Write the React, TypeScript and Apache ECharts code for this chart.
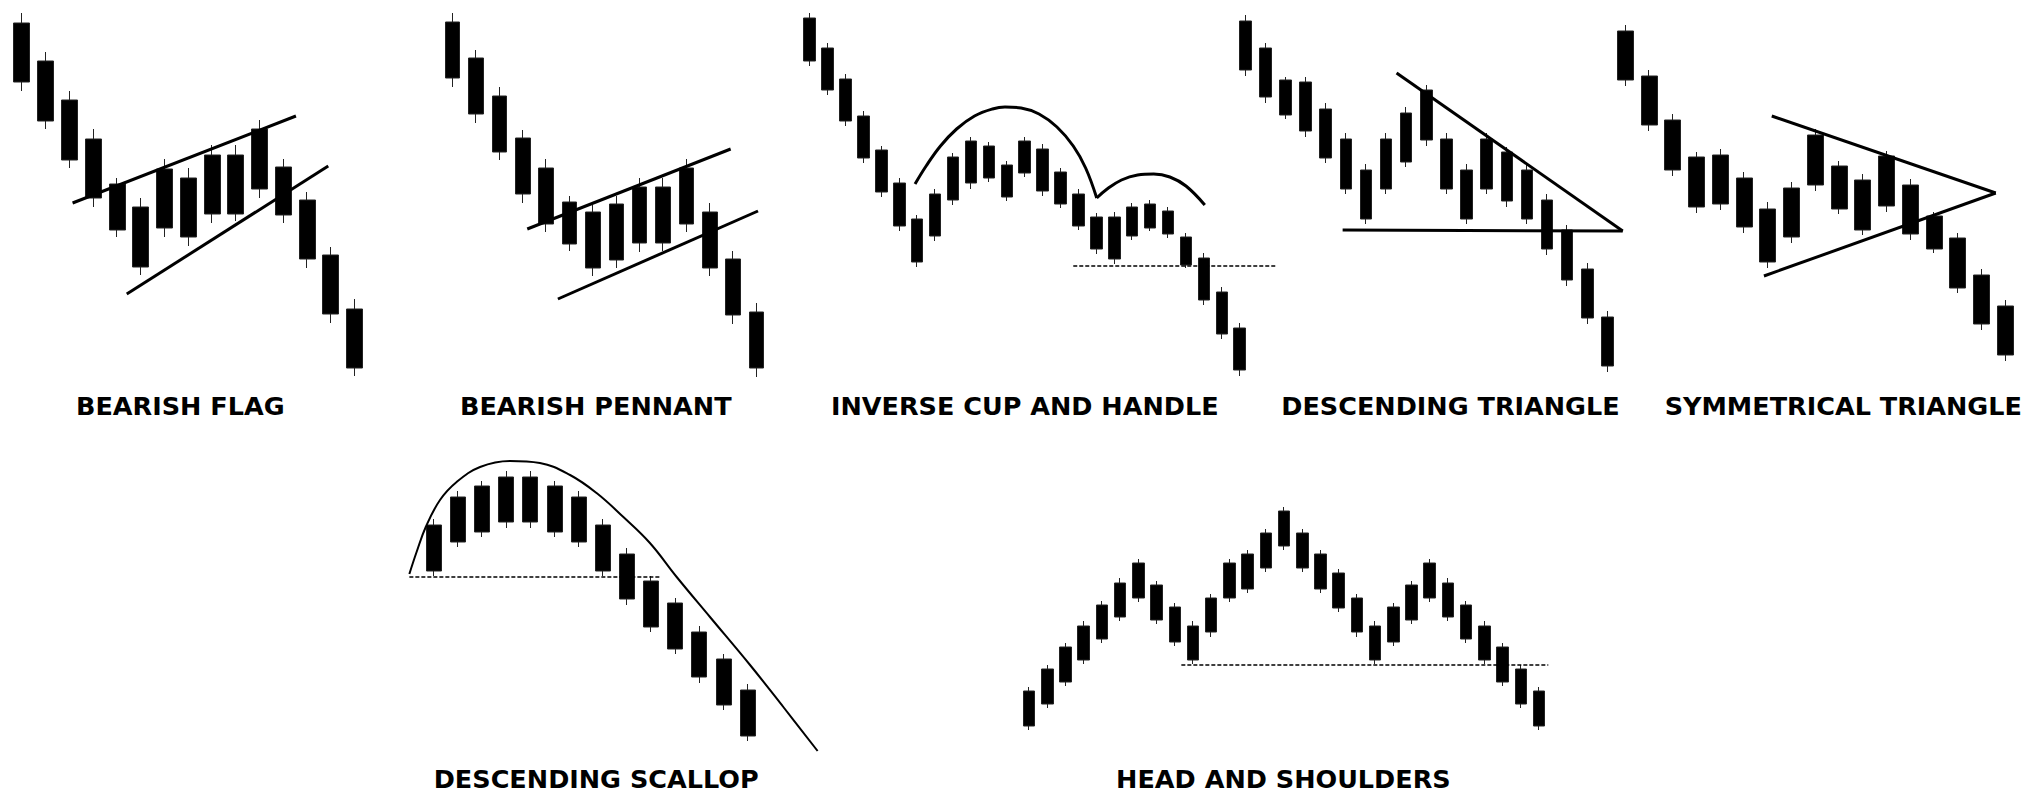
import React, { useEffect, useRef } from "react";
import * as echarts from "echarts";

// Candles: [open, close, lowest, highest] (price units)
const flagCandles = [
  [377, 318, 309, 387], [339, 279, 271, 348], [300, 240, 232, 309], [261, 202, 193, 271],
  [216, 170, 163, 222], [193, 133, 125, 202], [231, 172, 163, 241], [222, 163, 154, 232],
  [245, 186, 177, 255], [245, 186, 179, 255], [271, 211, 202, 280], [233, 185, 177, 241],
  [200, 141, 132, 208], [145, 86, 77, 153], [91, 32, 24, 101],
];
const flagUpper = [[2.13, 197], [11.53, 284]];
const flagLower = [[4.41, 106], [12.89, 234]];

const pennantCandles = [
  [378, 322, 313, 387], [342, 286, 277, 350], [304, 248, 240, 313], [262, 206, 197, 270],
  [232, 176, 168, 241], [198, 156, 149, 204], [188, 132, 124, 195], [196, 140, 132, 204],
  [213, 157, 148, 222], [213, 157, 149, 222], [232, 176, 168, 241], [188, 132, 124, 197],
  [141, 85, 76, 149], [88, 32, 23, 97],
];
const pennantUpper = [[3.19, 171], [11.89, 251]];
const pennantLower = [[4.5, 101], [13.06, 189]];

const cupCandles = [
  [382, 339, 334, 387], [352, 310, 305, 357], [321, 279, 274, 326], [284, 242, 237, 289],
  [250, 208, 203, 254], [217, 174, 169, 222], [181, 138, 133, 185], [206, 164, 159, 211],
  [243, 200, 195, 247], [259, 217, 211, 263], [254, 222, 218, 258], [235, 203, 199, 239],
  [259, 227, 223, 263], [251, 209, 204, 256], [228, 196, 192, 232], [206, 174, 170, 211],
  [183, 151, 146, 187], [183, 141, 136, 188], [193, 164, 160, 197], [196, 172, 169, 200],
  [189, 166, 162, 193], [163, 135, 132, 167], [142, 100, 95, 147], [108, 66, 61, 113],
  [72, 30, 24, 77],
];
const cupArc = [
  [5.88, 216], [6.5, 234], [7.3, 254], [8.2, 271], [9.2, 284], [10.2, 291], [10.9, 293],
  [11.8, 292], [12.8, 286], [13.8, 273], [14.71, 254], [15.4, 232], [16.02, 202],
];
const handleArc = [
  [16.02, 202], [16.6, 211], [17.4, 220], [18.3, 225], [19.2, 226], [20.1, 223], [21.0, 214], [22.05, 195],
];
const cupNeckline = [[14.71, 134], [26.06, 134]];

const descTriCandles = [
  [379, 330, 324, 385], [352, 303, 297, 357], [320, 285, 281, 323], [318, 269, 263, 323],
  [291, 242, 237, 297], [261, 211, 206, 267], [230, 181, 176, 236], [261, 211, 206, 267],
  [287, 238, 233, 293], [310, 260, 254, 315], [261, 211, 206, 267], [230, 181, 176, 236],
  [261, 211, 206, 267], [248, 199, 193, 253], [230, 181, 176, 236], [200, 151, 145, 206],
  [170, 120, 114, 175], [131, 82, 76, 137], [83, 34, 28, 89],
];
const descTriTop = [[7.52, 327], [18.76, 169]];
const descTriBase = [[4.84, 170], [18.76, 169]];

const symTriCandles = [
  [369, 320, 314, 375], [324, 275, 269, 330], [280, 230, 224, 286], [243, 193, 187, 248],
  [245, 196, 190, 251], [222, 173, 167, 228], [191, 138, 132, 198], [212, 163, 157, 218],
  [265, 215, 209, 271], [234, 191, 186, 239], [220, 170, 165, 226], [244, 194, 188, 249],
  [215, 166, 160, 221], [184, 151, 147, 188], [162, 112, 107, 167], [125, 76, 70, 131],
  [94, 45, 39, 100],
];
const symTriUpper = [[6.16, 284], [15.59, 207]];
const symTriLower = [[5.83, 124], [15.59, 207]];

const scallopCandles = [
  [269, 223, 218, 275], [297, 252, 247, 303], [308, 262, 257, 313], [317, 272, 266, 323],
  [317, 272, 266, 323], [308, 262, 257, 313], [297, 252, 247, 303], [269, 223, 218, 275],
  [240, 195, 189, 246], [213, 167, 162, 218], [191, 145, 140, 196], [162, 117, 111, 168],
  [135, 89, 84, 140], [104, 58, 53, 110],
];
const scallopCurve = [
  [-1.02, 220], [-0.72, 242], [-0.34, 267], [0.25, 294], [0.94, 312], [1.91, 327],
  [3.15, 333], [4.39, 331], [5.64, 319], [6.74, 301], [7.85, 277], [8.95, 251],
  [10.06, 217], [11.44, 177], [13.1, 129], [14.48, 87], [15.9, 43],
];
const scallopNeck = [[-1.02, 217], [9.37, 217]];

const hsCandles = [
  [103, 68, 64, 107], [125, 90, 86, 129], [147, 112, 108, 151], [168, 134, 130, 173],
  [189, 155, 151, 193], [211, 177, 173, 216], [231, 196, 192, 235], [209, 174, 170, 213],
  [187, 152, 148, 191], [168, 134, 130, 173], [196, 162, 157, 200], [231, 196, 192, 235],
  [240, 205, 201, 244], [261, 226, 222, 265], [283, 248, 244, 287], [261, 226, 222, 265],
  [240, 205, 201, 244], [221, 186, 182, 225], [196, 162, 157, 200], [168, 134, 130, 173],
  [187, 152, 148, 191], [209, 174, 170, 213], [231, 196, 192, 235], [211, 177, 173, 216],
  [189, 155, 151, 193], [168, 134, 130, 173], [147, 112, 108, 151], [125, 90, 86, 129],
  [103, 68, 64, 107],
];
const hsNeck = [[8.36, 129], [28.51, 129]];

const titles = [
  "BEARISH FLAG", "BEARISH PENNANT", "INVERSE CUP AND HANDLE", "DESCENDING TRIANGLE",
  "SYMMETRICAL TRIANGLE", "DESCENDING SCALLOP", "HEAD AND SHOULDERS",
];

type LineDef = { data: number[][]; width: number; dashed?: boolean; smooth?: boolean };
type Panel = {
  candles: number[][]; left: number; width: number; top: number; barWidth: number;
  lines: LineDef[]; titleX: number; titleY: number;
};

const W = 2037;

const panels: Panel[] = [
  { candles: flagCandles, left: 10.1, width: 356.4, top: 0, barWidth: 16.5, titleX: 180.3, titleY: 406,
    lines: [{ data: flagUpper, width: 3 }, { data: flagLower, width: 3 }] },
  { candles: pennantCandles, left: 441.0, width: 327.3, top: 0, barWidth: 15, titleX: 595.8, titleY: 406,
    lines: [{ data: pennantUpper, width: 3 }, { data: pennantLower, width: 3 }] },
  { candles: cupCandles, left: 800.7, width: 448, top: 0, barWidth: 12, titleX: 1024.8, titleY: 406,
    lines: [
      { data: cupArc, width: 3, smooth: true },
      { data: handleArc, width: 3, smooth: true },
      { data: cupNeckline, width: 1.5, dashed: true },
    ] },
  { candles: descTriCandles, left: 1235.2, width: 382.3, top: 0, barWidth: 12, titleX: 1450.5, titleY: 406,
    lines: [{ data: descTriTop, width: 3 }, { data: descTriBase, width: 3 }] },
  { candles: symTriCandles, left: 1613.6, width: 403.75, top: 0, barWidth: 16.5, titleX: 1843.3, titleY: 406,
    lines: [{ data: symTriUpper, width: 3 }, { data: symTriLower, width: 3 }] },
  { candles: scallopCandles, left: 421.9, width: 337.8, top: 394, barWidth: 15.5, titleX: 596.2, titleY: 779,
    lines: [
      { data: scallopCurve, width: 2, smooth: true },
      { data: scallopNeck, width: 1.5, dashed: true },
    ] },
  { candles: hsCandles, left: 1020.0, width: 528.1, top: 394, barWidth: 12, titleX: 1283.4, titleY: 779,
    lines: [{ data: hsNeck, width: 1.5, dashed: true }] },
];

export default function App() {
  const ref = useRef<HTMLDivElement>(null);
  useEffect(() => {
    if (!ref.current) return;
    document.body.style.margin = "0";
    document.documentElement.style.margin = "0";
    const chart = echarts.init(ref.current, undefined, { renderer: "svg" });
    const grid: any[] = [];
    const xAxis: any[] = [];
    const yAxis: any[] = [];
    const series: any[] = [];
    const graphic: any[] = [];
    panels.forEach((p, k) => {
      const n = p.candles.length;
      const step = p.width / n;
      // extra candle slots on each side of the overlay grid used for the trend lines
      const padL = Math.min(4, Math.floor(p.left / step));
      const padR = Math.min(4, Math.floor((W - p.left - p.width) / step));
      const gC = 2 * k;
      const gL = 2 * k + 1;
      grid.push({ left: p.left, top: p.top, width: p.width, height: 400, show: false, containLabel: false });
      grid.push({
        left: p.left - padL * step, top: p.top, width: p.width + (padL + padR) * step, height: 400,
        show: false, containLabel: false,
      });
      xAxis.push({ type: "category", gridIndex: gC, data: p.candles.map((_, i) => String(i + 1)), show: false, boundaryGap: true });
      xAxis.push({ type: "value", gridIndex: gL, min: -0.5 - padL, max: n - 0.5 + padR, show: false, splitLine: { show: false } });
      yAxis.push({ type: "value", gridIndex: gC, min: 0, max: 400, show: false, splitLine: { show: false } });
      yAxis.push({ type: "value", gridIndex: gL, min: 0, max: 400, show: false, splitLine: { show: false } });
      series.push({
        type: "candlestick",
        xAxisIndex: gC,
        yAxisIndex: gC,
        data: p.candles,
        barWidth: p.barWidth,
        silent: true,
        itemStyle: { color: "#000", color0: "#000", borderColor: "#222", borderColor0: "#222", borderWidth: 1 },
      });
      p.lines.forEach((l) => {
        series.push({
          type: "line",
          xAxisIndex: gL,
          yAxisIndex: gL,
          data: l.data,
          symbol: "none",
          smooth: l.smooth ? 0.4 : false,
          clip: false,
          silent: true,
          z: 5,
          lineStyle: { color: "#000", width: l.width, type: l.dashed ? [4, 2] : "solid", cap: "butt" },
        });
      });
      graphic.push({
        type: "text",
        x: p.titleX,
        y: p.titleY,
        silent: true,
        style: {
          text: titles[k],
          align: "center",
          verticalAlign: "middle",
          fill: "#000",
          font: 'bold 25.5px "DejaVu Sans"',
        },
      });
    });
    chart.setOption({
      animation: false,
      backgroundColor: "#ffffff",
      grid,
      xAxis,
      yAxis,
      series,
      graphic,
      tooltip: { show: false },
    });
    return () => chart.dispose();
  }, []);
  return <div ref={ref} style={{ width: W, height: 794, background: "#fff" }} />;
}
